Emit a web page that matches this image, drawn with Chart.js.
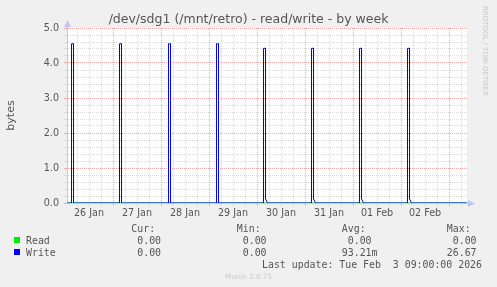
<!DOCTYPE html>
<html>
<head>
<meta charset="utf-8">
<script src="https://cdn.jsdelivr.net/npm/chart.js@4.4.0/dist/chart.umd.min.js"></script>
<style>
  body { margin: 0; background: #f0f0f0; }
  #wrap { position: relative; width: 497px; height: 287px; overflow: hidden; font-family: 'DejaVu Sans', sans-serif; }
  #chart { position: absolute; left: 0; top: 0; }
  .txt { position: absolute; white-space: pre; line-height: 1; }
  .mono { font-family: 'DejaVu Sans Mono', monospace; font-size: 9.9px; line-height: 9.9px; color: #555; }
  .sq { position: absolute; width: 6px; height: 6px; }
</style>
</head>
<body>
<div id="wrap">
  <canvas id="chart" width="497" height="287"></canvas>
  <div class="txt" id="title" style="left:0; width:497px; text-align:center; top:12.5px; font-size:12.5px; color:#555;">/dev/sdg1 (/mnt/retro) - read/write - by week</div>
  <div class="txt" id="rrd" style="left:480px; top:6px; font-size:7px; color:#c8c8c8; transform-origin:0 0; transform:translate(8px,0) rotate(90deg);">RRDTOOL / TOBI OETIKER</div>
  <div class="txt" id="munin" style="left:0; width:497px; text-align:center; top:272.5px; font-size:7.2px; color:#c8c8c8;">Munin 2.0.75</div>
</div>
<script>
  // Series info for the legend
  const seriesNames = ['Read', 'Write'];
  const seriesColors = ['#00ee00', '#0000ff'];
  const statHeaders = ['Cur:', 'Min:', 'Avg:', 'Max:'];
  const curValues = ['0.00', '0.00'];
  const minValues = ['0.00', '0.00'];
  const avgValues = ['0.00', '93.21m'];
  const maxValues = ['0.00', '26.67'];
  const lastUpdate = 'Last update: Tue Feb  3 09:00:00 2026';

  // x axis: hours since 26 Jan 00:00
  const dayHours = [12, 36, 60, 84, 108, 132, 156, 180];
  const dayLabels = ['26 Jan', '27 Jan', '28 Jan', '29 Jan', '30 Jan', '31 Jan', '01 Feb', '02 Feb'];

  // Read stays at zero all week
  const readHours = [1, 201];
  const readValues = [0, 0];

  // Write: a short burst every night (steps up, holds an hour, drops)
  const writeHours = [
    1,
    3.25, 3.25, 4.25, 4.25,
    27.25, 27.25, 28.25, 28.25,
    51.75, 51.75, 52.75, 52.75,
    75.75, 75.75, 76.75, 76.75,
    99.25, 99.25, 100.25, 100.25, 101.25,
    123.25, 123.25, 124.25, 124.25, 125.25,
    147.25, 147.25, 148.25, 148.25, 149.25,
    171.25, 171.25, 172.25, 172.25, 173.25,
    201
  ];
  const writeValues = [
    0,
    0, 4.55, 4.55, 0,
    0, 4.55, 4.55, 0,
    0, 4.55, 4.55, 0,
    0, 4.55, 4.55, 0,
    0, 4.42, 4.42, 0.12, 0,
    0, 4.42, 4.42, 0.12, 0,
    0, 4.42, 4.42, 0.12, 0,
    0, 4.42, 4.42, 0.12, 0,
    0
  ];

  const toPoints = (xs, ys) => xs.map((x, i) => ({ x: x, y: ys[i] }));

  const minorGrid = '#dcdcdc';
  const majorGrid = '#eeaaaa';
  const axisColor = '#c4c4f4';
  const textColor = '#555';

  const isWhole = v => Math.abs(v - Math.round(v)) < 1e-6;

  // White plot area and the rrdtool style axis arrows
  const frame = {
    id: 'frame',
    beforeDraw(chart) {
      const { ctx, chartArea: a } = chart;
      ctx.save();
      ctx.fillStyle = '#ffffff';
      ctx.fillRect(a.left, a.top, a.right - a.left, a.bottom - a.top);
      ctx.restore();
    },
    afterDraw(chart) {
      const { ctx, chartArea: a } = chart;
      ctx.save();
      ctx.strokeStyle = axisColor;
      ctx.fillStyle = axisColor;
      ctx.lineWidth = 1;
      ctx.beginPath();
      ctx.moveTo(a.left + 0.5, a.top);
      ctx.lineTo(a.left + 0.5, a.top - 4);
      ctx.moveTo(a.right, a.bottom + 0.5);
      ctx.lineTo(a.right + 4, a.bottom + 0.5);
      ctx.stroke();
      ctx.beginPath();
      ctx.moveTo(a.left + 0.5, a.top - 8);
      ctx.lineTo(a.left - 3, a.top - 1);
      ctx.lineTo(a.left + 4, a.top - 1);
      ctx.closePath();
      ctx.fill();
      ctx.beginPath();
      ctx.moveTo(a.right + 8, a.bottom + 0.5);
      ctx.lineTo(a.right + 1, a.bottom - 3);
      ctx.lineTo(a.right + 1, a.bottom + 4);
      ctx.closePath();
      ctx.fill();
      ctx.restore();
    }
  };

  const tickFont = { family: 'DejaVu Sans', size: 9.6 };

  new Chart(document.getElementById('chart'), {
    type: 'line',
    data: {
      datasets: [
        {
          label: 'Read',
          data: toPoints(readHours, readValues),
          borderColor: seriesColors[0],
          borderWidth: 1,
          pointRadius: 0,
          tension: 0,
          order: 2
        },
        {
          label: 'Write',
          data: toPoints(writeHours, writeValues),
          borderColor: seriesColors[1],
          borderWidth: 1,
          pointRadius: 0,
          tension: 0,
          order: 1
        }
      ]
    },
    options: {
      responsive: false,
      animation: false,
      events: [],
      layout: { padding: { top: 28, right: 30, left: 0, bottom: 0 } },
      plugins: {
        legend: { display: false },
        tooltip: { enabled: false }
      },
      scales: {
        x: {
          type: 'linear',
          min: 1,
          max: 201,
          afterFit: s => { s.height = 84; },
          ticks: {
            stepSize: 6,
            autoSkip: false,
            includeBounds: false,
            maxRotation: 0,
            color: textColor,
            font: tickFont,
            padding: 2,
            callback: v => {
              const i = dayHours.indexOf(v);
              return i >= 0 ? dayLabels[i] : '';
            }
          },
          grid: {
            color: c => (c.tick && c.tick.value % 24 === 0) ? majorGrid : minorGrid,
            tickColor: c => (c.tick && c.tick.value % 24 === 0) ? majorGrid : minorGrid,
            tickLength: 3
          },
          border: { color: axisColor, dash: [1, 1] }
        },
        y: {
          min: 0,
          max: 5,
          afterFit: s => { s.width = 67; },
          ticks: {
            stepSize: 0.2,
            autoSkip: false,
            color: textColor,
            font: tickFont,
            padding: 5,
            callback: v => isWhole(v) ? v.toFixed(1) : ''
          },
          grid: {
            color: c => (c.tick && isWhole(c.tick.value)) ? majorGrid : minorGrid,
            tickColor: c => (c.tick && isWhole(c.tick.value)) ? majorGrid : minorGrid,
            tickLength: 3
          },
          border: { color: axisColor, dash: [1, 1] },
          title: {
            display: true,
            text: 'bytes',
            color: textColor,
            font: { family: 'DejaVu Sans', size: 11 },
            padding: { top: 5, bottom: 0 }
          }
        }
      }
    },
    plugins: [frame]
  });

  // Legend block under the chart (monospace, right aligned columns)
  const wrap = document.getElementById('wrap');
  const colRight = [167, 272.5, 377.5, 482.5];
  const charW = 5.96;
  const rowTop = [236, 248];

  const addText = (text, right, top) => {
    const el = document.createElement('div');
    el.className = 'txt mono';
    el.style.right = (497 - right) + 'px';
    el.style.top = top + 'px';
    el.textContent = text;
    wrap.appendChild(el);
  };

  statHeaders.forEach((h, i) => addText(h, colRight[i] - 2 * charW, 224));

  const withSpace = s => /[0-9]$/.test(s) ? s + ' ' : s;
  seriesNames.forEach((name, r) => {
    const sq = document.createElement('div');
    sq.className = 'sq';
    sq.style.left = '14px';
    sq.style.top = (rowTop[r] + 1) + 'px';
    sq.style.background = seriesColors[r];
    wrap.appendChild(sq);

    const nm = document.createElement('div');
    nm.className = 'txt mono';
    nm.style.left = '26px';
    nm.style.top = rowTop[r] + 'px';
    nm.textContent = name;
    wrap.appendChild(nm);

    [curValues[r], minValues[r], avgValues[r], maxValues[r]].forEach((v, i) => {
      addText(withSpace(v), colRight[i], rowTop[r]);
    });
  });

  addText(lastUpdate, 482, 259.5);
</script>
</body>
</html>
